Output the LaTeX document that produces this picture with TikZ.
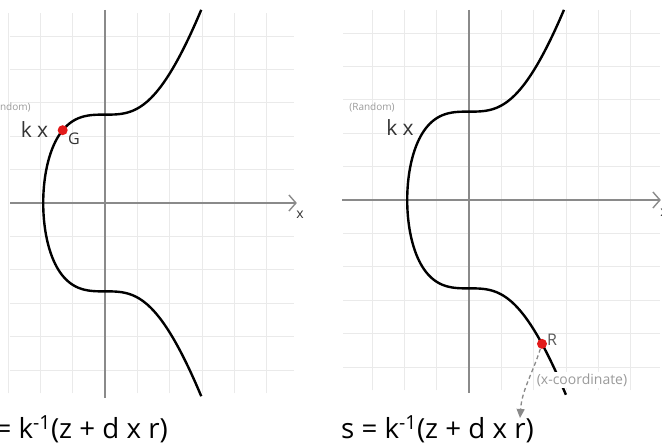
\documentclass[tikz,border=0pt]{standalone}
\usepackage{fontspec}
\setmainfont{Open Sans}
\usetikzlibrary{arrows.meta}
\definecolor{gridgray}{HTML}{EAEAEA}
\definecolor{axisgray}{HTML}{8A8A8A}
\definecolor{dotred}{HTML}{E21A1A}
\definecolor{labgray}{HTML}{9A9A9A}
\definecolor{txtdark}{HTML}{333333}
\begin{document}
\begin{tikzpicture}[
  gridline/.style={draw=gridgray, line width=0.8pt},
  axisline/.style={draw=axisgray, line width=1.4pt},
  axisarrow/.style={axisline, -{Straight Barb[length=7pt,width=16pt,line width=1.4pt]}},
  curveline/.style={draw=black, line width=2.4pt, line join=round},
  dot/.style={circle, fill=dotred, inner sep=0pt, minimum size=10pt},
  kxlab/.style={font=\fontsize{21}{24}\selectfont, text=txtdark, inner sep=0pt},
  randlab/.style={font=\fontsize{10}{12}\selectfont, text=labgray, inner sep=0pt},
  ptlab/.style={font=\fontsize{16}{18}\selectfont, text=txtdark, inner sep=0pt},
  axlab/.style={font=\fontsize{14}{16}\selectfont, text=txtdark, inner sep=0pt},
  formula/.style={font=\fontsize{27.7}{31}\selectfont, text=black, inner sep=0pt, anchor=base east},
  coordlab/.style={font=\fontsize{14}{16}\selectfont, text=labgray, fill=white, inner sep=2pt},
  dasharrow/.style={draw=axisgray, line width=1.3pt, dash pattern=on 4pt off 3pt,
    -{Triangle[length=9pt,width=8pt]}},
]
\useasboundingbox (0,0) rectangle (662pt,-446pt);

% ---------------- left panel ----------------
\begin{scope}[shift={(105pt,-203pt)}, x=32.3pt, y=33.4pt]
  \foreach \i in {-3,...,5} \draw[gridline] (\i,-5.7) -- (\i,5.7);
  \foreach \j in {-5,...,5} \draw[gridline] (-2.95,\j) -- (5.85,\j);
  \draw[axisline] (0,5.78) -- (0,-5.84);
  \draw[axisarrow] (-2.93,0) -- (5.94,0);
  \draw[curveline]
    plot[domain=2.98:-1.681, samples=100] (\x, {-sqrt((\x)*(\x)*(\x)+7)})
    -- plot[domain=-1.5:1.5, samples=40] ({-pow(7-(\x)*(\x),1/3)}, \x)
    -- plot[domain=-1.681:2.98, samples=100] (\x, {sqrt((\x)*(\x)*(\x)+7)});
  \node[dot] (G) at (-1.31,2.18) {};
\end{scope}
\node[randlab] (randL) at (8pt,-107pt) {(Random)};
\node[kxlab] (kxL) at (34.5pt,-130pt) {k x};
\node[ptlab] (Glab) at (74pt,-138.5pt) {G};
\node[axlab] (xL) at (300pt,-215pt) {x};
\node[formula] (fL) at (168pt,-439pt) {s = k\textsuperscript{-1}(z + d x r)};

% ---------------- right panel ----------------
\begin{scope}[shift={(469pt,-200pt)}, x=32.3pt, y=33.4pt]
  \foreach \i in {-3,...,5} \draw[gridline] (\i,-5.7) -- (\i,5.7);
  \foreach \j in {-5,...,5} \draw[gridline] (-3.9,\j) -- (5.9,\j);
  \draw[axisline] (0,5.69) -- (0,-5.78);
  \draw[axisarrow] (-3.93,0) -- (5.94,0);
  \draw[curveline]
    plot[domain=3.0:-1.681, samples=100] (\x, {-sqrt((\x)*(\x)*(\x)+7)})
    -- plot[domain=-1.5:1.5, samples=40] ({-pow(7-(\x)*(\x),1/3)}, \x)
    -- plot[domain=-1.681:2.94, samples=100] (\x, {sqrt((\x)*(\x)*(\x)+7)});
  \node[dot] (R) at (2.26,-4.306) {};
\end{scope}
\node[randlab] (randR) at (372pt,-107pt) {(Random)};
\node[kxlab] (kxR) at (400pt,-128pt) {k x};
\node[ptlab, text=black!65] (Rlab) at (552pt,-340pt) {R};
\node[axlab] (xR) at (664pt,-213pt) {x};
\node[coordlab] (xcoord) at (582pt,-380pt) {(x-coordinate)};
\node[formula] (fR) at (534pt,-439pt) {s = k\textsuperscript{-1}(z + d x r)};
\coordinate (tipR) at (520pt,-418pt);
\draw[dasharrow] (R) to[out=-108, in=86] (tipR);
\end{tikzpicture}
\end{document}
